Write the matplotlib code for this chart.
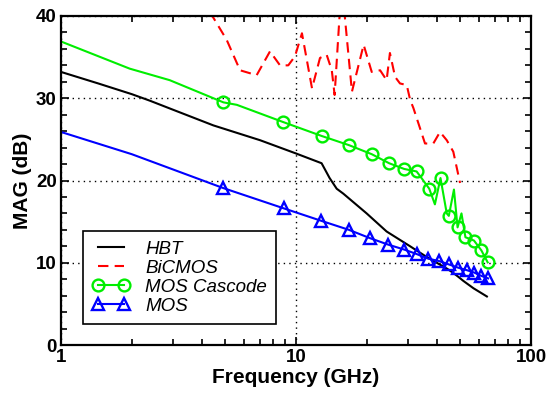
import matplotlib
matplotlib.use("Agg")
from matplotlib import pyplot as plt
from matplotlib.ticker import MultipleLocator, FixedLocator, FixedFormatter, LogLocator, NullFormatter

plt.rcParams['font.family'] = ['Liberation Sans', 'DejaVu Sans']

# HBT (black solid)
hbt_freq = [1, 1.44, 2.0, 2.39, 3.0, 4.45, 7.03, 9.97, 12.85, 13.9, 14.9, 15.9, 19.98,
            24.3, 30.6, 36.0, 43.8, 46.5, 49.0, 51.5, 56.9, 64.9]
hbt_mag = [33.2, 31.8, 30.5, 29.7, 28.6, 26.7, 24.9, 23.3, 22.1, 20.3, 19.0, 18.4, 16.0,
           13.8, 12.0, 10.7, 9.3, 8.8, 8.3, 7.8, 6.9, 5.9]

# BiCMOS (red dashed)
bicmos_freq = [4.3, 5.07, 5.78, 6.8, 7.75, 8.55, 9.27, 9.9, 10.6, 11.7, 12.65, 13.5, 14.2,
               14.6, 15.4, 16.0, 17.3, 19.4, 21.0, 22.8, 24.3, 25.1, 26.4, 27.7, 29.6,
               30.6, 31.6, 35.4, 38.4, 41.0, 43.8, 46.7, 49.9]
bicmos_mag = [40.5, 37.1, 33.4, 32.8, 35.7, 34.0, 34.0, 35.1, 37.9, 31.2, 34.9, 35.3, 33.4,
              30.4, 41.0, 41.0, 30.8, 36.5, 33.2, 33.4, 32.2, 35.5, 32.6, 31.8, 31.6,
              29.8, 28.8, 24.5, 24.5, 25.9, 24.9, 23.5, 19.7]

# MOS Cascode (green, circles)
casc_freq = [1, 1.96, 2.9, 4.91, 5.6, 8.83, 12.9, 16.8, 21.0, 24.9, 28.9, 32.6, 34.0,
             36.9, 39.0, 41.2, 43.8, 44.7, 47.0, 48.7, 50.6, 52.6, 57.2, 61.5, 65.4]
casc_mag = [36.9, 33.6, 32.2, 29.5, 29.2, 27.1, 25.4, 24.3, 23.2, 22.1, 21.4, 21.1, 20.4,
            19.0, 17.1, 20.3, 16.0, 15.7, 18.9, 14.3, 16.0, 13.1, 12.7, 11.5, 10.05]
casc_marks = [3, 5, 6, 7, 8, 9, 10, 11, 13, 15, 17, 19, 21, 22, 23, 24]

# MOS (blue, triangles)
mos_freq = [1, 2.0, 4.88, 8.9, 12.8, 16.8, 20.6, 24.7, 28.9, 32.6, 36.5, 40.7, 44.7,
            49.0, 53.3, 57.4, 61.5, 65.7]
mos_mag = [25.9, 23.2, 19.1, 16.6, 15.1, 14.0, 13.0, 12.2, 11.6, 11.06, 10.5, 10.2, 9.8,
           9.4, 9.1, 8.8, 8.4, 8.1]
mos_marks = list(range(2, len(mos_freq)))

fig = plt.figure(figsize=(5.51, 3.94), dpi=100)
ax = fig.add_axes([61 / 551, 49 / 394, 470 / 551, 329 / 394])

ax.plot(hbt_freq, hbt_mag, color='black', lw=1.5, label='HBT')
ax.plot(bicmos_freq, bicmos_mag, color='#ff0000', lw=1.5, dashes=(5, 3), label='BiCMOS')
ax.plot(casc_freq, casc_mag, color='#00ee00', lw=1.5, marker='o', markevery=casc_marks,
        ms=8.5, mfc='none', mew=1.7, label='MOS Cascode')
ax.plot(mos_freq, mos_mag, color='#0000ff', lw=1.5, marker='^', markevery=mos_marks,
        ms=8.5, mfc='none', mew=1.7, label='MOS')

ax.set_xscale('log')
ax.set_xlim(1, 100)
ax.set_ylim(0, 40)
ax.xaxis.set_major_locator(FixedLocator([1, 10, 100]))
ax.xaxis.set_major_formatter(FixedFormatter(['1', '10', '100']))
ax.xaxis.set_minor_locator(LogLocator(base=10, subs=range(2, 10)))
ax.xaxis.set_minor_formatter(NullFormatter())
ax.yaxis.set_major_locator(MultipleLocator(10))
ax.yaxis.set_minor_locator(MultipleLocator(2))

ax.tick_params(which='both', direction='in', top=True, right=True, width=1.2)
ax.tick_params(which='major', length=6, labelsize=13.5, pad=3)
ax.tick_params(which='minor', length=4)
for lab in ax.get_xticklabels() + ax.get_yticklabels():
    lab.set_fontweight('bold')
for sp in ax.spines.values():
    sp.set_linewidth(1.6)

ax.grid(True, which='major', color='black', linestyle=(0, (1, 3)), lw=1.0)

ax.set_xlabel('Frequency (GHz)', fontsize=15, fontweight='bold', labelpad=1)
ax.set_ylabel('MAG (dB)', fontsize=15, fontweight='bold', labelpad=3)

leg = ax.legend(loc='lower left', bbox_to_anchor=(0.047, 0.063), borderaxespad=0,
                numpoints=2, handlelength=2.0, handletextpad=0.8, labelspacing=0.1,
                borderpad=0.5, fancybox=False, edgecolor='black', framealpha=1,
                prop={'style': 'italic', 'size': 13.5})
leg.get_frame().set_linewidth(1.2)

fig.savefig('out.png', dpi=100)
